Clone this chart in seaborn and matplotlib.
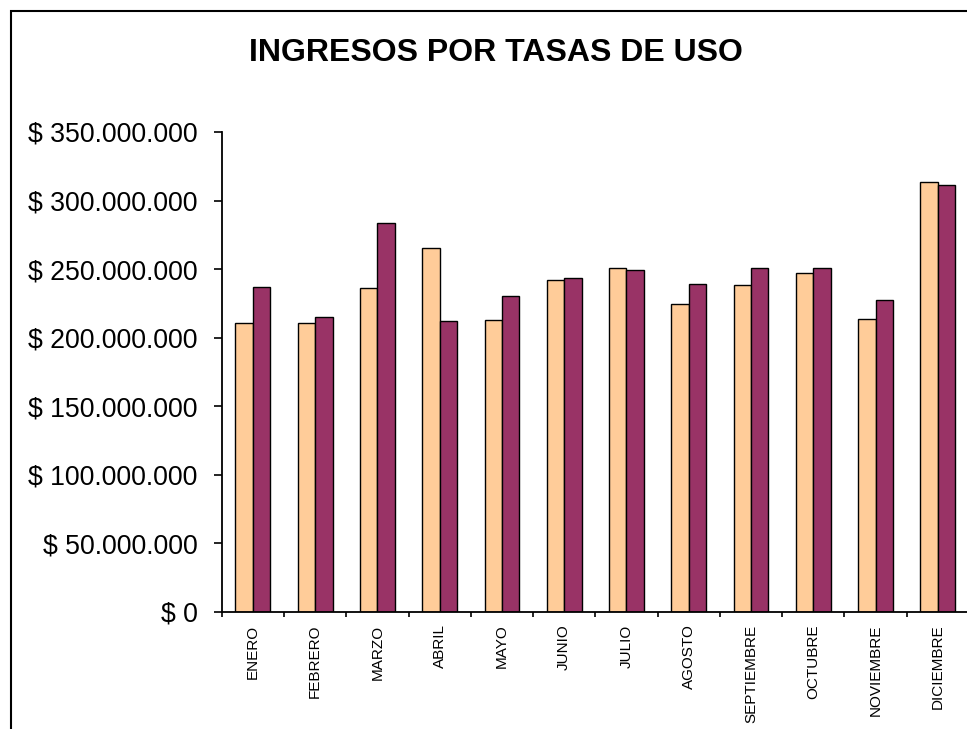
import matplotlib
matplotlib.use("Agg")
import matplotlib.pyplot as plt
import matplotlib.ticker as mticker
from matplotlib.patches import Rectangle
import seaborn as sns
import pandas as pd

months = ["ENERO", "FEBRERO", "MARZO", "ABRIL", "MAYO", "JUNIO", "JULIO",
          "AGOSTO", "SEPTIEMBRE", "OCTUBRE", "NOVIEMBRE", "DICIEMBRE"]
serie_1 = [210.7e6, 210.7e6, 236.0e6, 265.2e6, 213.2e6, 242.1e6, 250.6e6,
           224.4e6, 238.7e6, 247.2e6, 213.7e6, 313.8e6]
serie_2 = [237.0e6, 214.9e6, 284.0e6, 212.2e6, 230.2e6, 243.8e6, 249.6e6,
           239.4e6, 250.6e6, 250.6e6, 227.8e6, 311.2e6]
series_names = ["Serie 1", "Serie 2"]
colors = ["#FFCC99", "#993366"]
title = "INGRESOS POR TASAS DE USO"

df = pd.DataFrame({
    "mes": months * 2,
    "valor": serie_1 + serie_2,
    "serie": [series_names[0]] * len(months) + [series_names[1]] * len(months),
})

sns.set_style("white")
plt.rcParams["font.family"] = ["Liberation Sans", "DejaVu Sans"]
plt.rcParams["text.color"] = "black"
plt.rcParams["xtick.color"] = "black"
plt.rcParams["ytick.color"] = "black"
plt.rcParams["xtick.labelcolor"] = "black"
plt.rcParams["ytick.labelcolor"] = "black"

fig = plt.figure(figsize=(9.67, 7.29), dpi=100)
W, H = 967, 729
ax = fig.add_axes([221.7 / W, 1 - 612 / H, (969 - 221.7) / W, (612 - 132) / H])

sns.barplot(data=df, x="mes", y="valor", hue="serie", order=months,
            hue_order=series_names, palette=colors, width=0.56,
            edgecolor="black", linewidth=1.0, saturation=1, ax=ax, legend=False)

ax.set_xlim(-0.5, 11.5)
ax.set_ylim(0, 350e6)
ax.yaxis.set_major_locator(mticker.MultipleLocator(50e6))
ax.yaxis.set_major_formatter(mticker.FuncFormatter(
    lambda v, p: "$ " + f"{int(round(v)):,}".replace(",", ".")))
ax.set_xlabel("")
ax.set_ylabel("")

for s in ["top", "right"]:
    ax.spines[s].set_visible(False)
for s in ["left", "bottom"]:
    ax.spines[s].set_color("black")
    ax.spines[s].set_linewidth(1.3)

ax.tick_params(axis="y", which="major", direction="out", length=5.8, width=1.2,
               color="black", pad=11.5, labelsize=19.2, left=True,
               labelcolor="black")
ax.tick_params(axis="x", which="major", length=0, pad=9, labelsize=11,
               labelrotation=90, labelcolor="black")
ax.set_xticks([i - 0.5 for i in range(12)], minor=True)
ax.tick_params(axis="x", which="minor", direction="out", length=3.6, width=1.2,
               color="black", bottom=True)
for lab in ax.get_xticklabels():
    lab.set_va("top")
    lab.set_ha("center")

fig.text(0.513, 1 - 53 / H, title, ha="center", va="center",
         fontsize=23, fontweight="bold", color="black")

fig.patches.append(Rectangle((10.5 / W, -0.1), 1.2, 1 - 11 / H + 0.1,
                             transform=fig.transFigure, fill=False,
                             edgecolor="black", linewidth=1.5))

fig.savefig("out.png", dpi=100)
